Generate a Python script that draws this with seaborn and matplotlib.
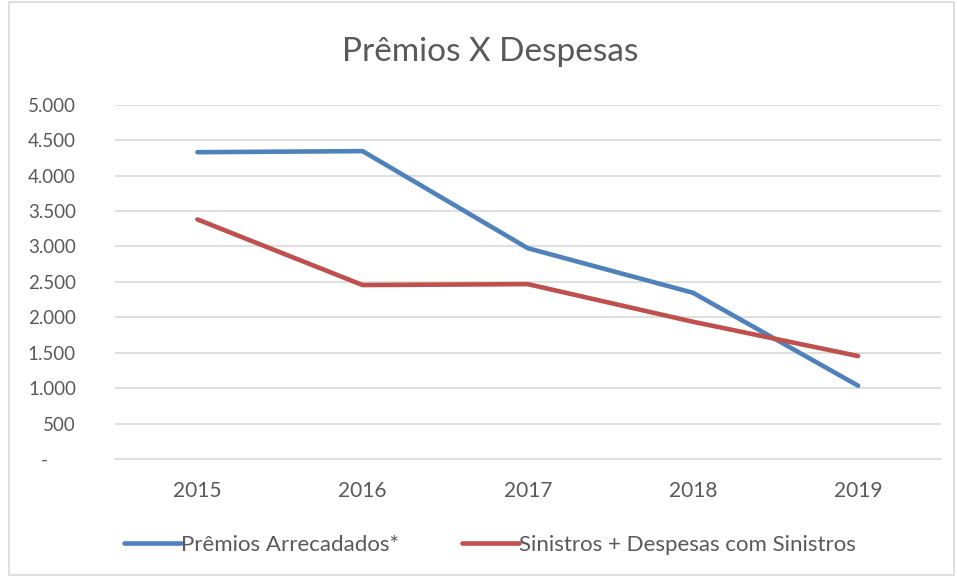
import matplotlib
matplotlib.use("Agg")
import matplotlib.pyplot as plt
import matplotlib.ticker as mticker
from matplotlib.patches import Rectangle
from matplotlib.lines import Line2D
import seaborn as sns
import pandas as pd

years = ["2015", "2016", "2017", "2018", "2019"]
premios = [4330, 4345, 2975, 2346, 1034]
sinistros = [3381, 2455, 2468, 1937, 1453]
series_names = ["Prêmios Arrecadados*", "Sinistros + Despesas com Sinistros"]
colors = ["#4F81BD", "#C0504D"]

df = pd.DataFrame({
    "Ano": years * 2,
    "Valor": premios + sinistros,
    "Serie": [series_names[0]] * len(years) + [series_names[1]] * len(years),
})

sns.set_theme(style="white")
plt.rcParams["font.family"] = ["Lato", "DejaVu Sans"]
txt = "#595959"

fig = plt.figure(figsize=(9.57, 5.77), dpi=100)
ax = fig.add_axes([0.120, 0.2045, 0.863, 0.614])
sns.lineplot(data=df, x="Ano", y="Valor", hue="Serie", palette=colors,
             linewidth=3.3, ax=ax, sort=False, legend=False,
             solid_capstyle="round", solid_joinstyle="round")

ax.set_xlim(-0.5, 4.5)
ax.set_ylim(0, 5000)
ax.yaxis.set_major_locator(mticker.MultipleLocator(500))
def fmt(v, p):
    if abs(v) < 1e-6:
        return "-      "
    return f"{int(v):,}".replace(",", ".")
ax.yaxis.set_major_formatter(mticker.FuncFormatter(fmt))
ax.grid(axis="y", color="#d9d9d9", linewidth=1.2)
ax.set_axisbelow(True)
for s in ["left", "right", "top"]:
    ax.spines[s].set_visible(False)
ax.spines["bottom"].set_color("#d9d9d9")
ax.spines["bottom"].set_linewidth(1.2)
ax.tick_params(axis="both", length=0, colors=txt)
ax.tick_params(axis="y", pad=28, labelsize=13.5)
ax.tick_params(axis="x", pad=16, labelsize=15)
ax.set_xlabel("")
ax.set_ylabel("")

fig.text(0.512, 0.910, "Prêmios X Despesas", ha="center", va="center",
         fontsize=24, color=txt)

handles = [Line2D([0], [0], color=c, linewidth=3.3, solid_capstyle="round") for c in colors]
fig.legend(handles, series_names, loc="center", bbox_to_anchor=(0.512, 0.055),
           ncol=2, frameon=False, fontsize=16, labelcolor=txt,
           handlelength=2.6, handletextpad=0.0, columnspacing=2.8)

fig.patches.append(Rectangle((0.009, 0.004), 0.988, 0.992, transform=fig.transFigure,
                             fill=False, edgecolor="#d9d9d9", linewidth=1.2))

fig.savefig("out.png", dpi=100)
